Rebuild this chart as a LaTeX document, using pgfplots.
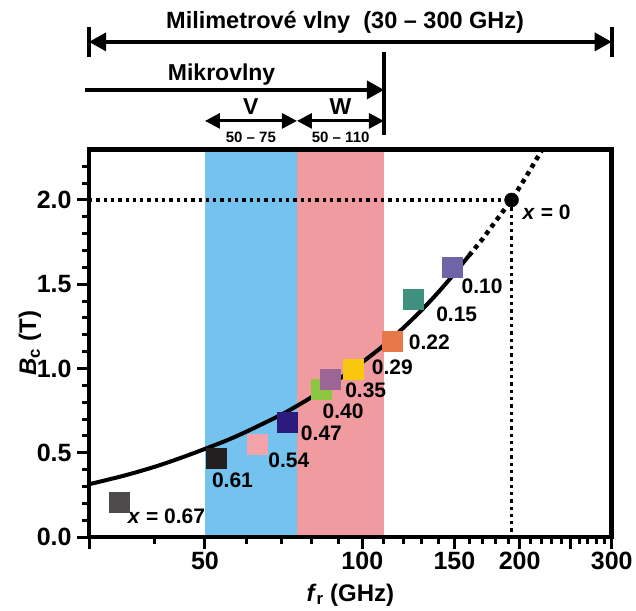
\documentclass[border=0pt]{standalone}
\usepackage{fontspec}
\setmainfont{Liberation Sans}
\usepackage{pgfplots}
\pgfplotsset{compat=1.18}
\usetikzlibrary{arrows.meta}

\definecolor{vband}{HTML}{74C3EE}
\definecolor{wband}{HTML}{F09BA0}
\definecolor{cA}{HTML}{4D4B4B}% x = 0.67
\definecolor{cB}{HTML}{231F20}% 0.61
\definecolor{cC}{HTML}{F4A3AA}% 0.54
\definecolor{cD}{HTML}{2B1B7C}% 0.47
\definecolor{cE}{HTML}{8CC63F}% 0.40
\definecolor{cF}{HTML}{9B6595}% 0.35
\definecolor{cG}{HTML}{F9C80E}% 0.29
\definecolor{cH}{HTML}{E8784A}% 0.22
\definecolor{cI}{HTML}{40907F}% 0.15
\definecolor{cJ}{HTML}{6F64A8}% 0.10

\newcommand\fs[1]{\fontsize{#1}{#1}\selectfont\bfseries}

\begin{document}
\begin{tikzpicture}
\useasboundingbox (-89pt,-73pt) rectangle (547pt,537pt);
\begin{axis}[
  at={(0,0)}, anchor=south west,
  width=522.7pt, height=387.6pt, scale only axis,
  xmode=log, xmin=30, xmax=300, ymin=0, ymax=2.3,
  xtick={30,50,100,150,200,250,300},
  xticklabels={,50,100,150,200,,300},
  minor xtick={40,60,70,80,90,110,120,130,140,160,170,180,190,210,220,230,240,260,270,280,290},
  ytick={0,0.5,1,1.5,2},
  yticklabels={0.0,0.5,1.0,1.5,2.0},
  minor ytick={0.1,0.2,0.3,0.4,0.6,0.7,0.8,0.9,1.1,1.2,1.3,1.4,1.6,1.7,1.8,1.9,2.1,2.2},
  xtick pos=bottom, ytick pos=left,
  tick align=outside,
  major tick length=12pt, minor tick length=7pt,
  every tick/.style={black, line width=3pt},
  axis line style={line width=4.5pt},
  axis on top, clip=false,
  ticklabel style={font=\fs{25}},
  yticklabel style={xshift=-2pt},
  xlabel={\textit{f}\textsubscript{r} (GHz)},
  ylabel={\textit{B}\textsubscript{c} (T)},
  label style={font=\fs{24}},
  xlabel style={at={(axis description cs:0.5,-0.1496)}, anchor=center},
  ylabel style={at={(axis description cs:-0.1129,0.5)}, anchor=center},
]

% V and W bands
\addplot[draw=none, fill=vband] coordinates {(50,2.3) (75,2.3)} \closedcycle;
\addplot[draw=none, fill=wband] coordinates {(75,2.3) (110,2.3)} \closedcycle;

% guide lines to the x = 0 point
\addplot[black, line width=3.3pt, dash pattern=on 3.3pt off 4pt] coordinates {(30,2.0) (193,2.0)};
\addplot[black, line width=3.3pt, dash pattern=on 3.3pt off 4pt] coordinates {(193,2.0) (193,0)};

% resonance field versus frequency
\addplot[black, line width=4pt, smooth] coordinates {
  (30,0.313) (35,0.364) (40,0.416) (45,0.47) (50,0.523) (55,0.573)
  (60,0.625) (65,0.677) (70,0.726) (75,0.778) (80,0.83) (85,0.883)
  (90,0.935) (95,0.985) (100,1.037) (110,1.138) (120,1.243) (130,1.348)
  (140,1.455) (150,1.563) (160,1.67)};
\addplot[black, line width=4.5pt, dash pattern=on 4.5pt off 4.5pt] coordinates {
  (160,1.67) (170,1.77) (180,1.875) (193,2.0) (205,2.13) (221,2.3)};

% measured samples
\pgfplotsset{sq/.style={only marks, mark=square*, mark size=10pt, mark options={draw=#1, fill=#1, line width=0pt}}}
\addplot[sq=cA] coordinates {(34.3,0.204)};
\addplot[sq=cB] coordinates {(52.6,0.467)};
\addplot[sq=cC] coordinates {(63.1,0.546)};
\addplot[sq=cD] coordinates {(71.9,0.678)};
\addplot[sq=cE] coordinates {(83.4,0.877)};
\addplot[sq=cF] coordinates {(87.0,0.936)};
\addplot[sq=cG] coordinates {(96.1,0.995)};
\addplot[sq=cH] coordinates {(114.1,1.163)};
\addplot[sq=cI] coordinates {(125.4,1.407)};
\addplot[sq=cJ] coordinates {(148.5,1.60)};
\addplot[only marks, mark=*, mark size=7pt, black] coordinates {(193,2.0)};

% composition labels
\node[font=\fs{21}, xshift=47pt, yshift=-14pt] at (axis cs:34.3,0.204) {\textit{x} = 0.67};
\node[font=\fs{21}, xshift=16pt, yshift=-22pt] at (axis cs:52.6,0.467) {0.61};
\node[font=\fs{21}, xshift=31pt, yshift=-15pt] at (axis cs:63.1,0.546) {0.54};
\node[font=\fs{21}, xshift=34pt, yshift=-11pt] at (axis cs:71.9,0.678) {0.47};
\node[font=\fs{21}, xshift=22pt, yshift=-22pt] at (axis cs:83.4,0.877) {0.40};
\node[font=\fs{21}, xshift=35pt, yshift=-11pt] at (axis cs:87.0,0.936) {0.35};
\node[font=\fs{21}, xshift=39pt, yshift=2pt] at (axis cs:96.1,0.995) {0.29};
\node[font=\fs{21}, xshift=37pt, yshift=-1pt] at (axis cs:114.1,1.163) {0.22};
\node[font=\fs{21}, xshift=43pt, yshift=-14pt] at (axis cs:125.4,1.407) {0.15};
\node[font=\fs{21}, xshift=30pt, yshift=-19pt] at (axis cs:148.5,1.60) {0.10};
\node[font=\fs{21}, xshift=35pt, yshift=-12pt] at (axis cs:193,2.0) {\textit{x} = 0};

% frequency bands above the plot
\draw[line width=4pt] (axis cs:30,3.027) -- (axis cs:30,2.849);
\draw[line width=4pt] (axis cs:300,3.027) -- (axis cs:300,2.849);
\draw[line width=3.5pt, {Triangle[length=17pt,width=18pt]}-{Triangle[length=17pt,width=18pt]}]
  (axis cs:30,2.938) -- (axis cs:300,2.938);
\node[font=\fs{23.5}] at (axis cs:92.7,3.056) {Milimetrové vlny\ \ (30 – 300 GHz)};
\draw[line width=3.5pt] (axis cs:110,2.878) -- (axis cs:110,2.386);
\draw[line width=3.5pt, -{Triangle[length=17pt,width=18pt]}]
  (axis cs:29.5,2.653) -- (axis cs:110,2.653);
\node[font=\fs{23}] at (axis cs:53.8,2.742) {Mikrovlny};
\draw[line width=3pt, {Triangle[length=15pt,width=15pt]}-{Triangle[length=15pt,width=15pt]}]
  (axis cs:50,2.469) -- (axis cs:75,2.469);
\draw[line width=3pt, {Triangle[length=15pt,width=15pt]}-{Triangle[length=15pt,width=15pt]}]
  (axis cs:75,2.469) -- (axis cs:110,2.469);
\node[font=\fs{23}] at (axis cs:61.2,2.552) {V};
\node[font=\fs{23}] at (axis cs:90.8,2.552) {W};
\node[font=\fs{15}] at (axis cs:61.2,2.374) {50 – 75};
\node[font=\fs{15}] at (axis cs:90.9,2.374) {50 – 110};
\end{axis}
\end{tikzpicture}
\end{document}
